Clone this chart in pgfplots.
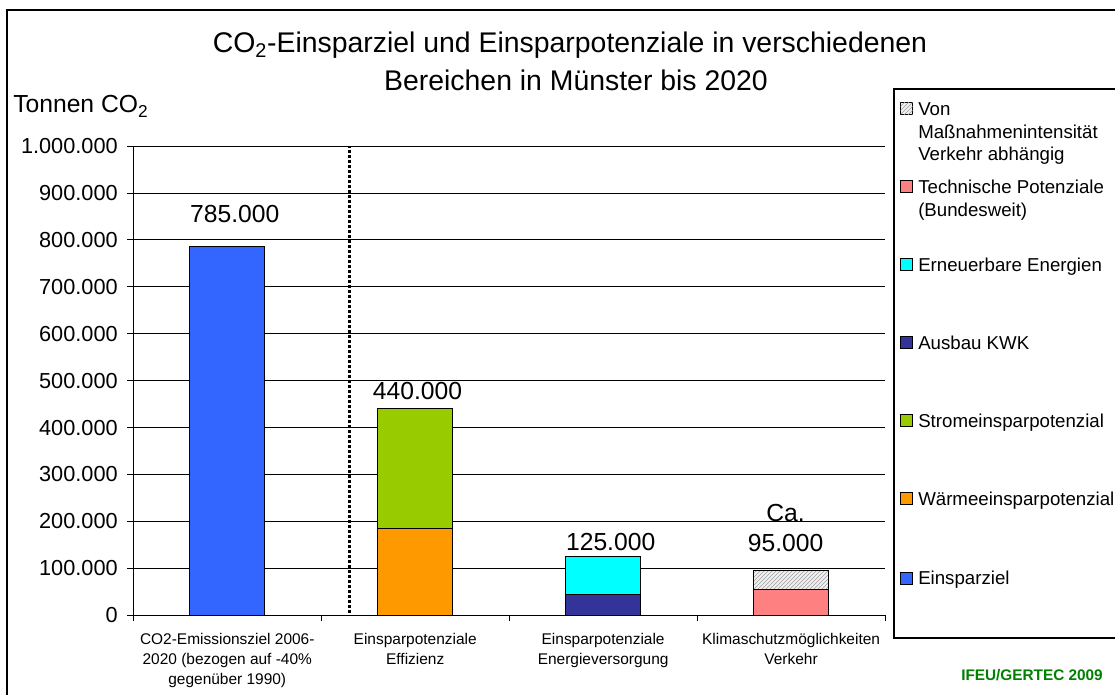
\documentclass[border=0pt]{standalone}
\usepackage{pgfplots}
\pgfplotsset{compat=1.18}
\usetikzlibrary{patterns}
\usepackage{fontspec}
\setmainfont{Liberation Sans}
\definecolor{cBlue}{RGB}{51,102,255}
\definecolor{cOrange}{RGB}{255,153,0}
\definecolor{cGreen}{RGB}{153,204,0}
\definecolor{cNavy}{RGB}{51,51,153}
\definecolor{cCyan}{RGB}{0,255,255}
\definecolor{cPink}{RGB}{255,128,128}
\definecolor{cCredit}{RGB}{0,128,0}
\begin{document}
\begin{tikzpicture}
\path[use as bounding box, clip] (0pt,0pt) rectangle (836.25pt,-521.25pt);
\begin{axis}[
  at={(99.98pt,-461.48pt)}, anchor=south west,
  scale only axis, width=563.8pt, height=352pt,
  xmin=-0.5, xmax=3.5, ymin=0, ymax=1000000,
  axis lines*=left,
  axis line style={black, line width=0.8pt},
  ytick={0,100000,200000,300000,400000,500000,600000,700000,800000,900000,1000000},
  scaled y ticks=false,
  yticklabel style={/pgf/number format/fixed, /pgf/number format/precision=0, /pgf/number format/1000 sep={.}, /pgf/number format/assume math mode=true, font=\fontsize{16.3}{19}\selectfont, inner sep=0pt, anchor=east, xshift=-7pt},
  ymajorgrids, grid style={black, line width=0.6pt},
  xtick={0,1,2,3},
  xticklabels={{CO2-Emissionsziel 2006-\\2020 (bezogen auf -40\%\\gegenüber 1990)},{Einsparpotenziale\\Effizienz},{Einsparpotenziale\\Energieversorgung},{Klimaschutzmöglichkeiten\\Verkehr}},
  xticklabel style={align=center, font=\fontsize{11.6}{15}\selectfont, inner sep=0pt, anchor=north, yshift=-9pt},
  minor xtick={-0.5,0.5,1.5,2.5,3.5},
  tick align=outside,
  major tick length=4.5pt, minor tick length=4.5pt,
  major x tick style={draw=none},
  minor x tick style={black, line width=0.6pt},
  y tick style={black, line width=0.6pt},
  clip=false,
]
% upper segments drawn as totals first, lower segments drawn over them
\addplot[ybar, bar width=0.4, bar shift=0pt, draw=black, line width=0.9pt, fill=gray!12, postaction={pattern=north east lines, pattern color=gray!75}] coordinates {(3,95000)};
\addplot[ybar, bar width=0.4, bar shift=0pt, draw=black, line width=0.9pt, fill=cPink] coordinates {(3,55000)};
\addplot[ybar, bar width=0.4, bar shift=0pt, draw=black, line width=0.9pt, fill=cCyan] coordinates {(2,125000)};
\addplot[ybar, bar width=0.4, bar shift=0pt, draw=black, line width=0.9pt, fill=cNavy] coordinates {(2,45000)};
\addplot[ybar, bar width=0.4, bar shift=0pt, draw=black, line width=0.9pt, fill=cGreen] coordinates {(1,440000)};
\addplot[ybar, bar width=0.4, bar shift=0pt, draw=black, line width=0.9pt, fill=cOrange] coordinates {(1,185000)};
\addplot[ybar, bar width=0.4, bar shift=0pt, draw=black, line width=0.9pt, fill=cBlue] coordinates {(0,785000)};
% dotted separator
\addplot[black, line width=2.25pt, dash pattern=on 2.25pt off 1.5pt, forget plot] coordinates {(0.653,5000) (0.653,1000000)};
% data labels
\node[anchor=base, font=\fontsize{18.5}{22}\selectfont] at (axis cs:0.04,835900) {785.000};
\node[anchor=base, font=\fontsize{18.5}{22}\selectfont] at (axis cs:1.0125,458800) {440.000};
\node[anchor=base, font=\fontsize{18.5}{22}\selectfont] at (axis cs:2.04,139100) {125.000};
\node[anchor=base, font=\fontsize{18.5}{22}\selectfont] at (axis cs:2.971,199400) {Ca.};
\node[anchor=base, font=\fontsize{18.5}{22}\selectfont] at (axis cs:2.971,135500) {95.000};
\end{axis}
\begin{scope}[x=0.75pt, y=-0.75pt]
% outer frame (left and top)
\draw[black, line width=1.5pt] (7,700) -- (7,10) -- (1120,10);
% title
\node[anchor=base, font=\fontsize{21.3}{26}\selectfont] at (570,53) {CO\textsubscript{2}-Einsparziel und Einsparpotenziale in verschiedenen};
\node[anchor=base, font=\fontsize{21.3}{26}\selectfont] at (576,91) {Bereichen in Münster bis 2020};
% y axis title
\node[anchor=base west, inner sep=0pt, font=\fontsize{18.5}{22}\selectfont] at (13,113) {Tonnen CO\textsubscript{2}};
% legend box
\draw[black, line width=1pt] (1120,89) -- (894,89) -- (894,638) -- (1120,638);
\tikzset{legsq/.style={draw=black, line width=0.75pt, minimum size=9pt, inner sep=0pt}}
\tikzset{legtx/.style={anchor=base west, inner sep=0pt, font=\fontsize{14}{17}\selectfont}}
\node[legsq, fill=gray!12, postaction={pattern=north east lines, pattern color=gray!75}] at (906.5,109) {};
\node[legtx] at (918,116) {Von};
\node[legtx] at (918,138.5) {Maßnahmenintensität};
\node[legtx] at (918,161) {Verkehr abhängig};
\node[legsq, fill=cPink] at (906.5,187) {};
\node[legtx] at (918,194) {Technische Potenziale};
\node[legtx] at (918,216.5) {(Bundesweit)};
\node[legsq, fill=cCyan] at (906.5,265) {};
\node[legtx] at (918,272) {Erneuerbare Energien};
\node[legsq, fill=cNavy] at (906.5,343) {};
\node[legtx] at (918,350) {Ausbau KWK};
\node[legsq, fill=cGreen] at (906.5,421) {};
\node[legtx] at (918,428) {Stromeinsparpotenzial};
\node[legsq, fill=cOrange] at (906.5,499) {};
\node[legtx] at (918,506) {Wärmeeinsparpotenzial};
\node[legsq, fill=cBlue] at (906.5,578) {};
\node[legtx] at (918,585) {Einsparziel};
% credit
\node[anchor=base east, inner sep=0pt, font=\fontsize{11.5}{13}\selectfont\bfseries, text=cCredit] at (1103,680) {IFEU/GERTEC 2009};
\end{scope}
\end{tikzpicture}
\end{document}
